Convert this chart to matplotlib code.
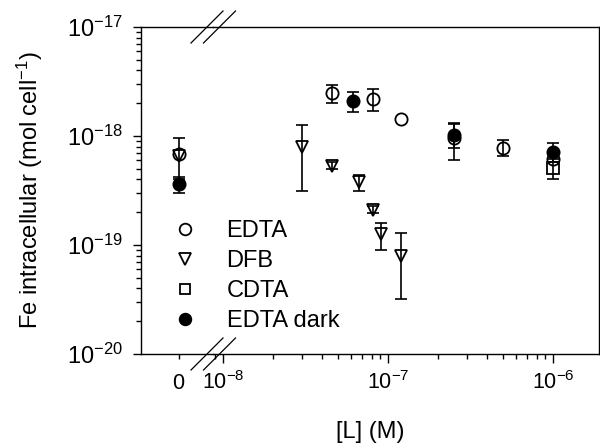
import numpy as np
import matplotlib
matplotlib.use("Agg")
import matplotlib.pyplot as plt
from matplotlib.lines import Line2D
from matplotlib.ticker import NullFormatter, LogLocator

plt.rcParams['font.family'] = ['Liberation Sans', 'DejaVu Sans']
plt.rcParams['mathtext.fontset'] = 'custom'
plt.rcParams['mathtext.rm'] = 'Liberation Sans'
plt.rcParams['mathtext.it'] = 'Liberation Sans:italic'
plt.rcParams['mathtext.bf'] = 'Liberation Sans:bold'

# --- data (x = ligand conc. in M, y = mol cell-1) ---
edta_x = [0, 4.6e-8, 8.1e-8, 1.2e-7, 2.5e-7, 5e-7, 1e-6]
edta_y = [6.8e-19, 2.47e-18, 2.2e-18, 1.42e-18, 9.6e-19, 7.8e-19, 6.2e-19]
edta_err = [2.8e-19, 4.5e-19, 5.0e-19, 0, 3.6e-19, 1.3e-19, 0]

dfb_x = [0, 3e-8, 4.6e-8, 6.7e-8, 8.1e-8, 9.1e-8, 1.2e-7]
dfb_y = [6.5e-19, 7.9e-19, 5.35e-19, 3.76e-19, 2.11e-19, 1.25e-19, 8.0e-20]
dfb_err = [0, 4.8e-19, 0.4e-19, 0.65e-19, 0.15e-19, 0.35e-19, 4.8e-20]

cdta_x = [1e-6]
cdta_y = [5.06e-19]
cdta_err = [1.05e-19]

dark_x = [0, 6.1e-8, 2.5e-7, 1e-6]
dark_y = [3.63e-19, 2.11e-18, 1.03e-18, 7.2e-19]
dark_err = [0.6e-19, 4.5e-19, 2.5e-19, 1.4e-19]

y_major = [1e-20, 1e-19, 1e-18, 1e-17]
x_major = [1e-8, 1e-7, 1e-6]

W, H = 600, 448
PT = 72 / 100  # points per pixel at 100 dpi


def fx(p):
    return p / W


def fy(p):
    return 1 - p / H


fig = plt.figure(figsize=(6, 4.48), dpi=100)
left, split, right, top, bottom = 141, 213, 599, 27, 354
ax0 = fig.add_axes([fx(left), fy(bottom), fx(split - left), (bottom - top) / H])
ax1 = fig.add_axes([fx(split), fy(bottom), fx(right - split), (bottom - top) / H], sharey=ax0)

series = [
    (edta_x, edta_y, edta_err, dict(marker='o', ms=8.8, mfc='none'), 'EDTA', 3),
    (dfb_x, dfb_y, dfb_err, dict(marker='v', ms=8.6, mfc='none'), 'DFB', 4),
    (cdta_x, cdta_y, cdta_err, dict(marker='s', ms=8.2, mfc='none'), 'CDTA', 2),
    (dark_x, dark_y, dark_err, dict(marker='o', ms=8.8, mfc='black'), 'EDTA dark', 5),
]

handles = []
for xs, ys, es, style, label, z in series:
    xs, ys, es = np.array(xs), np.array(ys), np.array(es)
    for ax, sel in ((ax0, xs == 0), (ax1, xs > 0)):
        if not sel.any():
            continue
        e = es[sel]
        m = e > 0
        if m.any():
            ax.errorbar(xs[sel][m], ys[sel][m], yerr=e[m], fmt='none', ecolor='black',
                        elinewidth=1.2, capsize=4.3, capthick=1.2, zorder=z)
        h, = ax.plot(xs[sel], ys[sel], ls='none', color='black', mec='black', mew=1.3,
                     zorder=z + 0.5, label=label, **style)
    handles.append(h)

ax0.set_yscale('log')
ax0.set_ylim(1e-20, 1e-17)
ax0.set_yticks(y_major)
ax0.set_xlim(-1, 0.92)
ax0.set_xticks([0])
ax0.set_xticklabels(['0'])
ax0.spines['right'].set_visible(False)
ax0.tick_params(axis='x', which='major', direction='out', length=5 * PT, width=1,
                pad=14 * PT, labelsize=15.5)
ax0.tick_params(axis='y', which='major', direction='out', length=8 * PT, width=1,
                pad=10 * PT, labelsize=17)
ax0.tick_params(axis='y', which='minor', direction='out', length=4.7 * PT, width=1)
ax0.yaxis.set_minor_locator(LogLocator(base=10, subs=np.arange(2, 10)))
ax0.yaxis.set_minor_formatter(NullFormatter())

ax1.set_xscale('log')
ax1.set_xlim(8.7e-9, 1.9e-6)
ax1.set_xticks(x_major)
ax1.spines['left'].set_visible(False)
ax1.tick_params(axis='y', which='both', left=False, labelleft=False)
ax1.tick_params(axis='x', which='major', direction='out', length=9 * PT, width=1,
                pad=8 * PT, labelsize=15.5)
ax1.tick_params(axis='x', which='minor', direction='out', length=5 * PT, width=1)
ax1.xaxis.set_minor_locator(LogLocator(base=10, subs=np.arange(2, 10)))
ax1.xaxis.set_minor_formatter(NullFormatter())

for ax in (ax0, ax1):
    for s in ax.spines.values():
        s.set_linewidth(1.0)
    ax.patch.set_visible(False)

fig.text(fx(30), fy((top + bottom) / 2), 'Fe intracellular (mol cell$^{-1}$)', fontsize=17,
         rotation=90, ha='center', va='center')
fig.text(fx((left + right) / 2), fy(432), '[L] (M)', fontsize=17, ha='center', va='center')

# axis break marks
for yb in (top, bottom):
    for xc in (207, 219.5):
        fig.add_artist(Line2D([fx(xc - 16), fx(xc + 16)], [fy(yb + 16), fy(yb - 16)],
                              transform=fig.transFigure, color='black', lw=0.9))

fig.legend(handles=handles, loc='upper left', bbox_to_anchor=(fx(173), fy(220)),
           frameon=False, fontsize=17, markerscale=0.95, handlelength=1.0,
           handletextpad=1.27, labelspacing=0.34, borderpad=0, borderaxespad=0)

fig.savefig('out.png', dpi=100)
